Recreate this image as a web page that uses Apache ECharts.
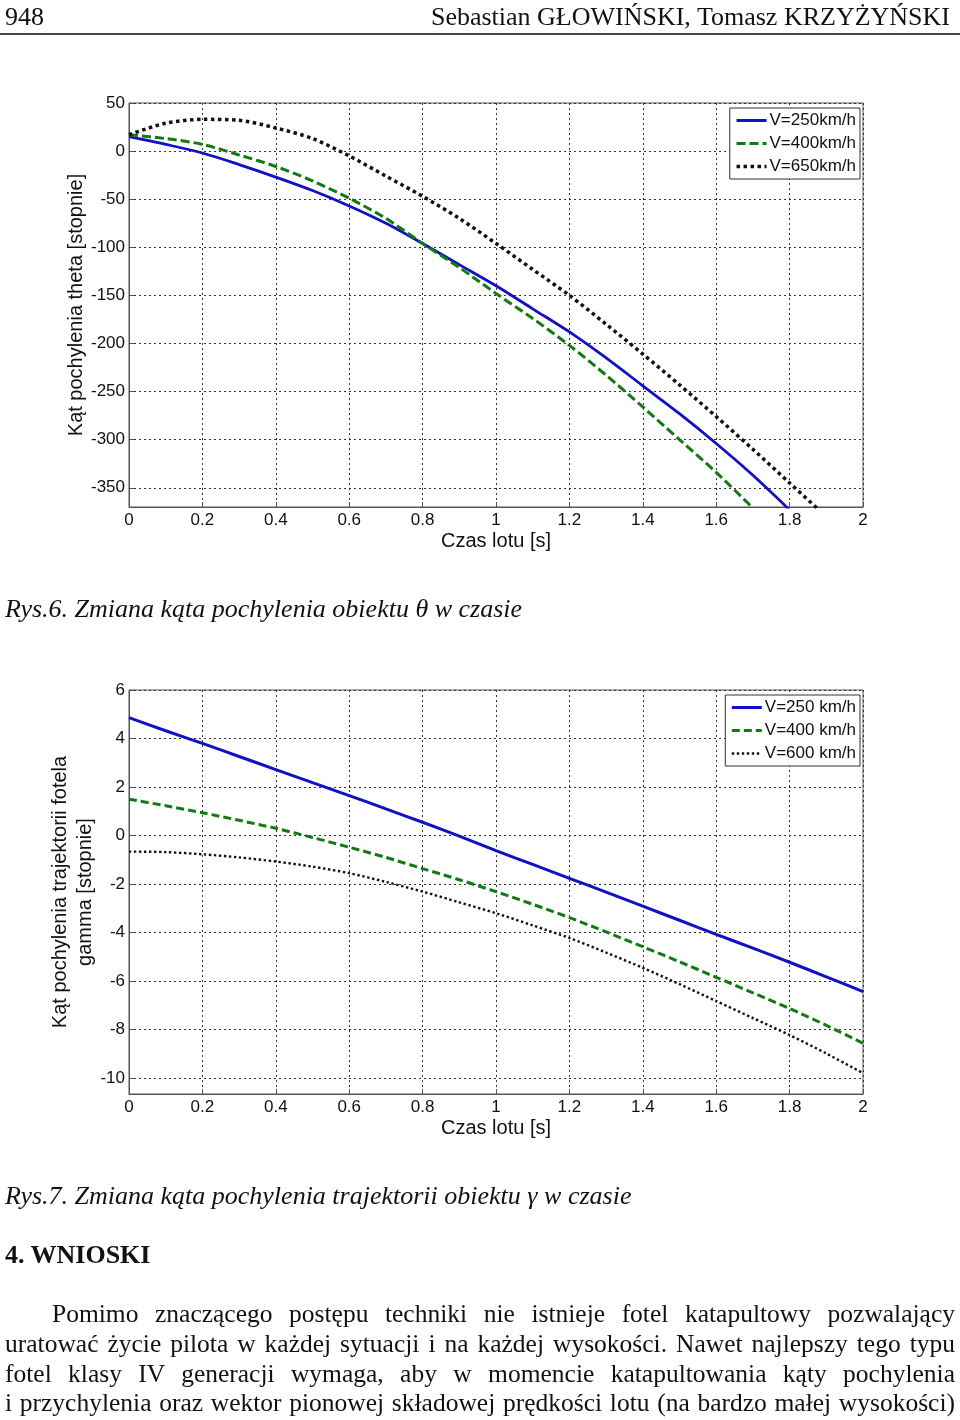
<!DOCTYPE html>
<html>
<head>
<meta charset="utf-8">
<script src="https://cdn.jsdelivr.net/npm/echarts@6/dist/echarts.min.js"></script>
<style>
html,body{margin:0;padding:0;background:#fff;}
#page{position:relative;width:960px;height:1420px;overflow:hidden;font-family:"Liberation Serif","Times New Roman",serif;color:#111;}
#chart{position:absolute;left:0;top:0;width:960px;height:1420px;}
.t{position:absolute;white-space:nowrap;line-height:30px;}
.j{position:absolute;white-space:nowrap;line-height:30px;font-size:25.5px;text-align:justify;text-align-last:justify;}
.cap{font-style:italic;font-size:26px;}
</style>
</head>
<body>
<div id="page">
  <div id="chart"></div>
  <div class="t" style="left:5px;top:2px;font-size:26px;">948</div>
  <div class="t" style="right:10px;top:2px;font-size:26px;">Sebastian GŁOWIŃSKI, Tomasz KRZYŻYŃSKI</div>
  <div style="position:absolute;left:0;top:33px;width:960px;height:2px;background:#444;"></div>
  <div class="t cap" style="left:5px;top:594px;">Rys.6. Zmiana kąta pochylenia obiektu <span style="font-style:italic">θ</span> w czasie</div>
  <div class="t cap" style="left:5px;top:1181px;">Rys.7. Zmiana kąta pochylenia trajektorii obiektu <span style="font-style:italic">γ</span> w czasie</div>
  <div class="t" style="left:5px;top:1240px;font-size:26px;font-weight:bold;">4. WNIOSKI</div>
  <div class="j" style="left:52px;width:903px;top:1299px;">Pomimo znaczącego postępu techniki nie istnieje fotel katapultowy pozwalający</div>
  <div class="j" style="left:5px;width:950px;top:1329px;">uratować życie pilota w każdej sytuacji i na każdej wysokości. Nawet najlepszy tego typu</div>
  <div class="j" style="left:5px;width:950px;top:1359px;">fotel klasy IV generacji wymaga, aby w momencie katapultowania kąty pochylenia</div>
  <div class="j" style="left:5px;width:950px;top:1388px;">i przychylenia oraz wektor pionowej składowej prędkości lotu (na bardzo małej wysokości)</div>
</div>
<script>
// ---------- Data ----------
const timeTheta = [0, 0.1, 0.2, 0.3, 0.4, 0.5, 0.6, 0.7, 0.8, 0.9, 1.0, 1.1, 1.2, 1.3, 1.4, 1.5, 1.6, 1.7, 1.8, 1.9];
const theta250 = [15, 7, -2, -14, -27, -41, -57, -75, -96, -118, -140, -164, -188, -215, -244, -273, -304, -337, -373, null];
const theta400 = [17, 13, 7, -4, -16, -31, -49, -70, -96, -121, -148, -174, -202, -233, -266, -300, -334, -371, null, null];
const theta650 = [17, 29, 33, 32, 24, 13, -5, -26, -47, -70, -96, -123, -150, -180, -211, -243, -276, -310, -345, -380];

const timeGamma = [0, 0.1, 0.2, 0.3, 0.4, 0.5, 0.6, 0.7, 0.8, 0.9, 1.0, 1.1, 1.2, 1.3, 1.4, 1.5, 1.6, 1.7, 1.8, 1.9, 2.0];
const gamma250 = [4.86, 4.32, 3.80, 3.26, 2.72, 2.18, 1.65, 1.10, 0.55, -0.02, -0.62, -1.19, -1.76, -2.33, -2.91, -3.49, -4.07, -4.64, -5.22, -5.82, -6.43];
const gamma400 = [1.50, 1.23, 0.94, 0.63, 0.30, -0.08, -0.48, -0.90, -1.36, -1.82, -2.31, -2.83, -3.38, -3.97, -4.58, -5.20, -5.84, -6.48, -7.13, -7.82, -8.56];
const gamma600 = [-0.66, -0.68, -0.77, -0.90, -1.07, -1.28, -1.55, -1.91, -2.31, -2.75, -3.20, -3.70, -4.22, -4.82, -5.45, -6.12, -6.82, -7.52, -8.22, -8.98, -9.79];

const xTicks = [0, 0.2, 0.4, 0.6, 0.8, 1, 1.2, 1.4, 1.6, 1.8, 2];
const xTickLabels = ['0', '0.2', '0.4', '0.6', '0.8', '1', '1.2', '1.4', '1.6', '1.8', '2'];
const yTicksTheta = [-350, -300, -250, -200, -150, -100, -50, 0, 50];
const yTicksGamma = [-10, -8, -6, -4, -2, 0, 2, 4, 6];

const legendTheta = ['V=250km/h', 'V=400km/h', 'V=650km/h'];
const legendGamma = ['V=250 km/h', 'V=400 km/h', 'V=600 km/h'];

const xTitle = 'Czas lotu [s]';
const yTitleTheta = 'Kąt pochylenia theta [stopnie]';
const yTitleGamma = 'Kąt pochylenia trajektorii fotela\ngamma [stopnie]';

// ---------- Chart ----------
const FONT = '"Liberation Sans", Arial, sans-serif';
const BLUE = '#1010c4', GREEN = '#127a12', BLACK = '#111111';
const zip = (xs, ys) => xs.map((x, i) => [x, ys[i]]);

function xAxisDef(gi) {
  return {
    type: 'value', gridIndex: gi, min: 0, max: 2,
    name: xTitle, nameLocation: 'middle', nameGap: 24, nameMoveOverlap: false,
    nameTextStyle: { fontSize: 20, color: '#111', fontFamily: FONT },
    axisLine: { show: true, onZero: false, lineStyle: { color: '#555', width: 1 } },
    axisTick: { show: true, inside: true, length: 5, lineStyle: { color: '#555' }, customValues: xTicks },
    axisLabel: { fontSize: 17, color: '#111', fontFamily: FONT, margin: 5, customValues: xTicks,
      formatter: v => { const i = xTicks.findIndex(t => Math.abs(t - v) < 1e-9); return i >= 0 ? xTickLabels[i] : ''; } },
    splitLine: { show: true, lineStyle: { type: [2, 3], color: '#333', width: 1 } }
  };
}
function yAxisDef(gi, min, max, ticks, name, gap) {
  return {
    type: 'value', gridIndex: gi, min: min, max: max,
    name: name, nameLocation: 'middle', nameGap: gap, nameRotate: 90, nameMoveOverlap: false,
    nameTextStyle: { fontSize: 20, color: '#111', fontFamily: FONT, lineHeight: 25 },
    axisLine: { show: true, onZero: false, lineStyle: { color: '#555', width: 1 } },
    axisTick: { show: true, inside: true, length: 5, lineStyle: { color: '#555' }, customValues: ticks },
    axisLabel: { fontSize: 17, color: '#111', fontFamily: FONT, margin: 4, customValues: ticks },
    splitLine: { show: true, lineStyle: { type: [2, 3], color: '#333', width: 1 } }
  };
}
function legendDef(names, widths, top) {
  return {
    data: names.map((n, i) => ({ name: n, lineStyle: { width: widths[i] } })),
    orient: 'vertical', right: 100, top: top,
    itemWidth: 30, itemHeight: 14, itemGap: 6,
    padding: [4, 4, 4, 5],
    borderColor: '#333', borderWidth: 1, backgroundColor: '#fff',
    itemStyle: { opacity: 0 },
    textStyle: { fontSize: 17, lineHeight: 17, color: '#111', fontFamily: FONT, padding: [0, 0, 0, -2] },
    selectedMode: false
  };
}
function lineSeries(name, gi, data, color, width, type) {
  return {
    name: name, type: 'line', xAxisIndex: gi, yAxisIndex: gi, data: data,
    symbol: 'none', showSymbol: false, smooth: 0.3, clip: true, connectNulls: false,
    lineStyle: { color: color, width: width, type: type, cap: 'butt' },
    itemStyle: { color: color }
  };
}

const chart = echarts.init(document.getElementById('chart'), null, { renderer: 'canvas' });
chart.setOption({
  animation: false,
  backgroundColor: '#fff',
  grid: [
    { left: 129, right: 97, top: 103, height: 404, show: true, borderColor: '#555', borderWidth: 1, backgroundColor: '#fff' },
    { left: 129, right: 97, top: 690, height: 404, show: true, borderColor: '#555', borderWidth: 1, backgroundColor: '#fff' }
  ],
  xAxis: [xAxisDef(0), xAxisDef(1)],
  yAxis: [
    yAxisDef(0, -370, 50, yTicksTheta, yTitleTheta, 40),
    yAxisDef(1, -10.65, 6, yTicksGamma, yTitleGamma, 31)
  ],
  legend: [legendDef(legendTheta, [3, 3, 3.5], 108), legendDef(legendGamma, [3, 3, 2.5], 695)],
  series: [
    lineSeries(legendTheta[0], 0, zip(timeTheta, theta250), BLUE, 2.8, 'solid'),
    lineSeries(legendTheta[1], 0, zip(timeTheta, theta400), GREEN, 3, [9, 4]),
    lineSeries(legendTheta[2], 0, zip(timeTheta, theta650), BLACK, 3.5, [3.5, 3.5]),
    lineSeries(legendGamma[0], 1, zip(timeGamma, gamma250), BLUE, 3, 'solid'),
    lineSeries(legendGamma[1], 1, zip(timeGamma, gamma400), GREEN, 3, [8, 4]),
    lineSeries(legendGamma[2], 1, zip(timeGamma, gamma600), BLACK, 2.4, [2.4, 2.6])
  ]
});
</script>
</body>
</html>
